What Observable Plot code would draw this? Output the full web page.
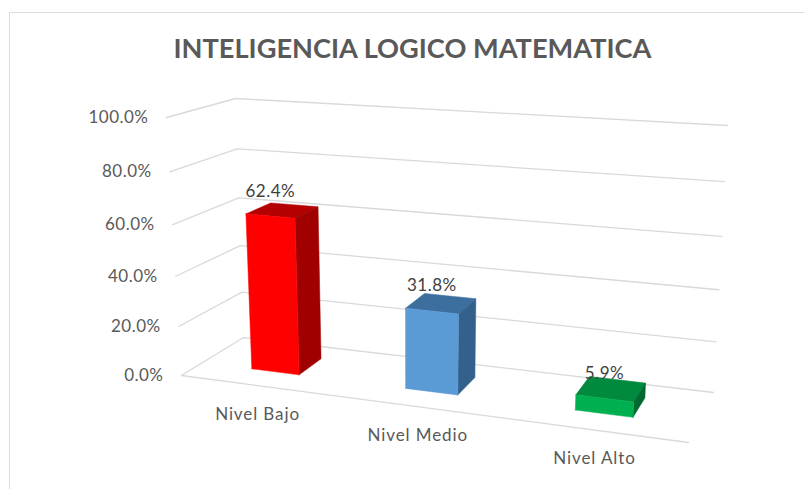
<!DOCTYPE html>
<html>
<head>
<meta charset="utf-8">
<style>
  html,body{margin:0;padding:0;background:#fff;overflow:hidden}
  #chart{position:absolute;left:0;top:0;width:804px;height:489px}
  #frame{position:absolute;left:9px;top:12px;width:800px;height:480px;border-top:1.5px solid #dcdcdc;border-left:1.5px solid #dcdcdc}
  #chart svg{position:absolute;left:0;top:0;background:transparent}
  .tick-label text,.value-label text{letter-spacing:.5px}
  .cat-label text{letter-spacing:.9px}
</style>
<script src="https://cdn.jsdelivr.net/npm/d3@7"></script>
<script src="https://cdn.jsdelivr.net/npm/@observablehq/plot@0.6"></script>
</head>
<body>
<div id="frame"></div>
<div id="chart"></div>
<script>
const titleText = "INTELIGENCIA LOGICO MATEMATICA";
const categories = ["Nivel Bajo", "Nivel Medio", "Nivel Alto"];
const values = [62.4, 31.8, 5.9];
const axisTicks = [0, 20, 40, 60, 80, 100];
const frontColors = ["#ff0000", "#5b9bd5", "#00b050"];
const topColors = ["#b40000", "#3c6e9e", "#008a3e"];
const sideColors = ["#a00000", "#34608c", "#00692f"];

// Camera of the 3D box: where its eight corners land in the picture.
// Index: [category end, value end, depth end]
const corners = {
  "000": [181, 375], "001": [243, 337], "010": [166, 117], "011": [235, 98],
  "100": [688, 442], "101": [713, 392], "110": [707, 154], "111": [727, 125]
};
const catPerspective = 1.16, valPerspective = 1.066;
const barHalfWidth = 0.053, barDepthFront = 0.34, barDepthBack = 0.74;

function warp(t, k) { return t / (t + k * (1 - t)); }
function project(t, value, w) {
  const u = warp(t, catPerspective), v = warp(value / 100, valPerspective);
  const out = [0, 0];
  for (const a of [0, 1]) for (const b of [0, 1]) for (const c of [0, 1]) {
    const g = (a ? u : 1 - u) * (b ? v : 1 - v) * (c ? w : 1 - w);
    const p = corners[`${a}${b}${c}`];
    out[0] += g * p[0]; out[1] += g * p[1];
  }
  return out;
}
const pt = (t, val, w) => { const [x, y] = project(t, val, w); return {x, y}; };
const catCenter = i => (i + 0.5) / categories.length;

const marks = [];
const gridStyle = {x: "x", y: "y", stroke: "#d9d9d9", strokeWidth: 1.3};
for (const tick of axisTicks) {
  marks.push(Plot.line([pt(0, tick, 0), pt(0, tick, 1), pt(1, tick, 1)], gridStyle));
}
marks.push(Plot.line([pt(0, 0, 0), pt(1, 0, 0)], gridStyle));

values.forEach((val, i) => {
  const t0 = catCenter(i) - barHalfWidth, t1 = catCenter(i) + barHalfWidth;
  const f = barDepthFront, b = barDepthBack;
  const face = (pts, fill) => Plot.line(pts, {x: "x", y: "y", fill, stroke: fill, strokeWidth: 0.5});
  marks.push(face([pt(t0, val, f), pt(t0, val, b), pt(t1, val, b), pt(t1, val, f), pt(t0, val, f)], topColors[i]));
  marks.push(face([pt(t1, 0, f), pt(t1, 0, b), pt(t1, val, b), pt(t1, val, f), pt(t1, 0, f)], sideColors[i]));
  marks.push(face([pt(t0, 0, f), pt(t1, 0, f), pt(t1, val, f), pt(t0, val, f), pt(t0, 0, f)], frontColors[i]));
});

const textStyle = {x: "x", y: "y", text: "label", fill: "#595959", fontSize: 17};
marks.push(Plot.text(axisTicks.map(tick => ({...pt(0, tick, 0), label: tick.toFixed(1) + "%"})),
  {...textStyle, textAnchor: "end", dx: -18, className: "tick-label"}));
marks.push(Plot.text(categories.map((label, i) => ({...pt(catCenter(i), 0, 0), label})),
  {...textStyle, dy: 29, dx: 1.5, className: "cat-label"}));
marks.push(Plot.text(values.map((val, i) => ({...pt(catCenter(i), val, barDepthFront), label: val.toFixed(1) + "%"})),
  {...textStyle, dy: -25, fill: "#404040", className: "value-label"}));
marks.push(Plot.text([titleText], {
  frameAnchor: "top", dy: 38.5, dx: 10, fontSize: 27.2, fontWeight: 700, fill: "#595959"
}));

const chart = Plot.plot({
  width: 804, height: 489, margin: 0,
  style: {fontFamily: "Lato, Carlito, sans-serif", background: "transparent"},
  x: {domain: [0, 804], range: [0, 804], axis: null},
  y: {domain: [0, 489], range: [0, 489], axis: null},
  marks
});
document.getElementById("chart").appendChild(chart);
</script>
</body>
</html>
